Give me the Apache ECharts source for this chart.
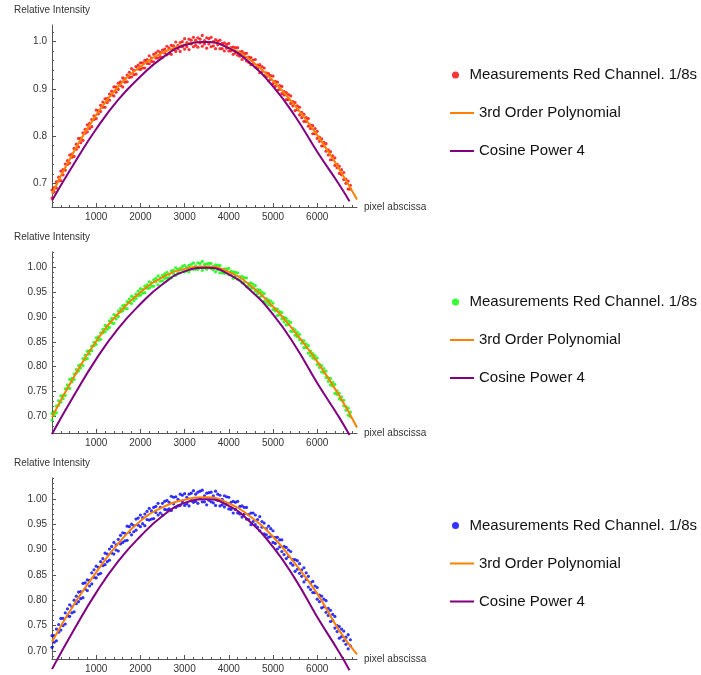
<!DOCTYPE html>
<html>
<head>
<meta charset="utf-8">
<script src="https://cdn.jsdelivr.net/npm/echarts@6/dist/echarts.min.js"></script>
<style>html,body{margin:0;background:#fff}#chart{width:701px;height:675px}</style>
</head>
<body>
<div id="chart"></div>
<script>
// pixel positions of the measurement samples
var pixelX = [0,100,200,300,400,500,600,700,800,900,
  1000,1100,1200,1300,1400,1500,1600,1700,1800,1900,
  2000,2100,2200,2300,2400,2500,2600,2700,2800,2900,
  3000,3100,3200,3300,3400,3500,3600,3700,3800,3900,
  4000,4100,4200,4300,4400,4500,4600,4700,4800,4900,
  5000,5100,5200,5300,5400,5500,5600,5700,5800,5900,
  6000,6100,6200,6300,6400,6500,6600,6700];
var pixelXHalf = [50,150,250,350,450,550,650,750,850,950,
  1050,1150,1250,1350,1450,1550,1650,1750,1850,1950,
  2050,2150,2250,2350,2450,2550,2650,2750,2850,2950,
  3050,3150,3250,3350,3450,3550,3650,3750,3850,3950,
  4050,4150,4250,4350,4450,4550,4650,4750,4850,4950,
  5050,5150,5250,5350,5450,5550,5650,5750,5850,5950,
  6050,6150,6250,6350,6450,6550,6650,6750];

// red channel measurements (edges of the band at full steps, two inner rows at half steps)
var redUpper = [.686,.703,.726,.741,.760,.774,.795,.807,.824,.835,
  .855,.865,.879,.889,.904,.912,.923,.929,.943,.947,
  .955,.960,.970,.973,.980,.982,.990,.992,.999,.998,
  1.006,1.005,1.009,1.008,1.013,1.008,1.009,1.004,1.003,.997,
  .996,.988,.987,.979,.975,.966,.962,.951,.944,.932,
  .927,.914,.905,.892,.885,.871,.861,.846,.837,.822,
  .810,.794,.784,.767,.754,.736,.723,.705];
var redLower = [.669,.690,.706,.728,.743,.757,.777,.791,.809,.820,
  .837,.852,.861,.876,.885,.899,.904,.915,.925,.931,
  .941,.944,.953,.957,.965,.966,.972,.973,.979,.979,
  .984,.983,.989,.988,.990,.986,.989,.985,.985,.980,
  .980,.973,.971,.962,.959,.951,.946,.934,.928,.917,
  .911,.897,.890,.877,.869,.854,.845,.831,.821,.805,
  .795,.779,.768,.750,.738,.721,.708,.688];
var redMid = [.691,.705,.729,.740,.762,.772,.795,.806,.827,.835,
  .854,.861,.880,.887,.904,.907,.921,.924,.939,.942,
  .955,.954,.965,.965,.977,.976,.986,.983,.992,.989,
  .998,.995,1.003,.997,1.002,.995,1.000,.993,.996,.986,
  .987,.976,.978,.967,.967,.953,.950,.936,.934,.920,
  .916,.899,.894,.877,.873,.856,.850,.831,.823,.805,
  .798,.779,.771,.750,.740,.718,.709,.688];
var redMid2 = [.682,.713,.718,.748,.755,.783,.786,.814,.816,.843,
  .847,.872,.871,.895,.893,.915,.914,.935,.930,.950,
  .944,.962,.958,.976,.968,.984,.975,.991,.985,1.000,
  .989,1.003,.992,1.005,.995,1.006,.991,1.001,.985,.994,
  .980,.987,.969,.975,.956,.961,.943,.947,.925,.928,
  .905,.907,.887,.888,.864,.864,.839,.839,.816,.816,
  .789,.787,.760,.758,.733,.729,.700,.696];

// green channel
var greenUpper = [.705,.720,.741,.755,.774,.785,.802,.816,.831,.841,
  .858,.868,.883,.892,.905,.912,.923,.931,.942,.946,
  .957,.962,.971,.975,.983,.984,.990,.993,.999,.998,
  1.004,1.004,1.009,1.009,1.012,1.007,1.008,1.005,1.004,.997,
  .998,.991,.989,.982,.979,.969,.963,.954,.947,.934,
  .928,.916,.909,.897,.889,.874,.865,.852,.842,.826,
  .817,.802,.791,.776,.764,.746,.732,.716];
var greenLower = [.692,.707,.728,.742,.756,.774,.791,.802,.816,.832,
  .845,.855,.870,.879,.887,.901,.912,.917,.927,.937,
  .944,.949,.958,.962,.965,.973,.979,.979,.984,.989,
  .991,.991,.996,.996,.994,.996,.997,.991,.989,.988,
  .985,.978,.976,.969,.961,.958,.952,.940,.932,.925,
  .915,.903,.896,.884,.871,.863,.854,.838,.827,.817,
  .804,.789,.778,.763,.746,.735,.721,.702];
var greenMid = [.709,.722,.742,.756,.776,.787,.804,.814,.832,.842,
  .860,.868,.882,.888,.903,.910,.924,.929,.940,.943,
  .955,.958,.969,.971,.979,.978,.986,.987,.996,.995,
  1.000,.997,1.003,1.001,1.006,1.001,1.002,.995,.996,.990,
  .992,.983,.981,.970,.968,.958,.955,.943,.937,.923,
  .917,.904,.899,.885,.877,.860,.853,.838,.831,.815,
  .805,.787,.777,.761,.751,.732,.719,.699];
var greenMid2 = [.702,.731,.735,.763,.769,.794,.797,.823,.825,.849,
  .853,.875,.875,.897,.896,.917,.917,.936,.933,.952,
  .948,.965,.962,.978,.972,.987,.979,.994,.989,1.002,
  .993,1.006,.996,1.008,.999,1.008,.995,1.004,.989,.997,
  .985,.990,.974,.979,.963,.966,.947,.950,.929,.932,
  .912,.911,.890,.892,.871,.869,.847,.846,.822,.822,
  .798,.796,.770,.768,.744,.739,.712,.708];

// blue channel
var blueUpper = [.730,.743,.764,.775,.791,.800,.816,.833,.840,.854,
  .867,.876,.893,.901,.914,.920,.933,.946,.950,.960,
  .968,.970,.981,.983,.991,.991,.997,1.005,1.004,1.009,
  1.010,1.009,1.016,1.013,1.017,1.011,1.013,1.015,1.007,1.006,
  1.003,.995,.995,.986,.983,.972,.968,.965,.952,.946,
  .937,.924,.919,.904,.896,.880,.872,.864,.847,.837,
  .825,.808,.799,.780,.768,.748,.739,.732];
var blueLower = [.707,.720,.741,.753,.768,.777,.797,.805,.819,.832,
  .844,.853,.870,.879,.891,.897,.914,.918,.929,.938,
  .945,.947,.958,.961,.968,.968,.978,.977,.983,.987,
  .987,.986,.993,.991,.994,.988,.994,.987,.986,.984,
  .980,.972,.972,.964,.960,.949,.949,.937,.931,.924,
  .914,.901,.896,.882,.873,.857,.853,.836,.826,.815,
  .802,.785,.776,.758,.745,.725,.720,.704];
var blueMid = [.730,.737,.764,.769,.787,.793,.817,.822,.839,.845,
  .865,.868,.891,.893,.909,.911,.932,.934,.947,.948,
  .963,.959,.976,.973,.983,.979,.993,.990,.999,.994,
  1.003,.996,1.009,1.001,1.006,.997,1.006,.997,.999,.989,
  .993,.979,.985,.970,.969,.955,.959,.944,.941,.926,
  .924,.905,.906,.886,.880,.861,.860,.841,.834,.815,
  .810,.787,.784,.760,.750,.728,.727,.710];
var blueMid2 = [.717,.752,.750,.783,.775,.808,.803,.834,.828,.860,
  .851,.882,.876,.906,.899,.928,.917,.945,.935,.962,
  .951,.975,.960,.985,.972,.995,.980,1.003,.986,1.007,
  .990,1.011,.995,1.015,.994,1.012,.992,1.009,.988,1.004,
  .979,.993,.970,.983,.959,.972,.944,.955,.929,.941,
  .912,.919,.890,.899,.869,.878,.847,.854,.821,.828,
  .797,.802,.770,.772,.738,.743,.713,.722];

// fitted curves
var fitX = [0,500,1000,1500,2000,2500,3000,3500,4000,4500,5000,5500,6000,6500,6900];
var polyRed = [.678,.768,.845,.905,.947,.976,.994,.999,.987,.960,.917,.864,.802,.730,.666];
var polyGreen = [.698,.780,.851,.907,.950,.980,.997,1.002,.991,.963,.921,.869,.810,.741,.677];
var polyBlue = [.718,.792,.855,.912,.956,.983,.998,1.003,.991,.964,.925,.872,.813,.740,.693];
var cosX = [0,500,1000,1500,2000,2500,3000,3500,4000,4500,5000,5500,6000,6500,6730];
var cosPower4 = [.664,.742,.815,.877,.926,.966,.992,.999,.986,.953,.905,.842,.767,.697,.662];

// tick labels
var xTickLabels = [1000,2000,3000,4000,5000,6000];
var yLabelsTop = [0.7,0.8,0.9,1.0];
var yLabelsFine = [0.70,0.75,0.80,0.85,0.90,0.95,1.00];

var measName = 'Measurements Red Channel. 1/8s';
var polyName = '3rd Order Polynomial';
var cosName = 'Cosine Power 4';
var font = 'Liberation Sans, Arial, sans-serif';
var axisColor = '#555';
var textColor = '#333';
var orange = '#ff8000';
var purple = '#800080';

function pairs(xs, ys) {
  return xs.map(function (x, k) { return [x, ys[k]]; });
}
function steps(from, to, step) {
  var out = [];
  for (var v = from; v <= to + 1e-9; v += step) out.push(+v.toFixed(3));
  return out;
}

var panels = [
  {top: 25, height: 182, yMin: 0.65, yMax: 1.035, minor: steps(0.66, 1.02, 0.02), labels: yLabelsTop, digits: 1,
   color: '#ff0000', meas: [redUpper, redLower, redMid, redMid2], poly: polyRed, legendTop: 62.5},
  {top: 252, height: 181, yMin: 0.666, yMax: 1.031, minor: steps(0.67, 1.03, 0.01), labels: yLabelsFine, digits: 2,
   color: '#00ff00', meas: [greenUpper, greenLower, greenMid, greenMid2], poly: polyGreen, legendTop: 289.5},
  {top: 478, height: 181, yMin: 0.684, yMax: 1.041, minor: steps(0.69, 1.04, 0.01), labels: yLabelsFine, digits: 2,
   color: '#0000ff', meas: [blueUpper, blueLower, blueMid, blueMid2], poly: polyBlue, legendTop: 513}
];

var xMinor = steps(0, 6800, 200);
var grids = [], xAxes = [], yAxes = [], legends = [], series = [];

panels.forEach(function (p, i) {
  grids.push({left: 52, top: p.top, width: 305, height: p.height});

  xAxes.push({
    gridIndex: i, type: 'value', min: 0, max: 6900,
    name: 'pixel abscissa', nameLocation: 'end', nameGap: 7,
    nameTextStyle: {fontSize: 10, color: textColor, fontFamily: font},
    axisLine: {lineStyle: {color: axisColor}},
    axisTick: {inside: true, length: 2, customValues: xMinor, lineStyle: {color: axisColor}},
    axisLabel: {customValues: xTickLabels, fontSize: 10, color: textColor, fontFamily: font, margin: 5,
      formatter: function (v) { return String(v); }},
    splitLine: {show: false}
  });
  xAxes.push({
    gridIndex: i, type: 'value', min: 0, max: 6900, position: 'bottom',
    axisLine: {show: false},
    axisTick: {inside: true, length: 4, customValues: xTickLabels, lineStyle: {color: axisColor}},
    axisLabel: {show: false}, splitLine: {show: false}
  });

  yAxes.push({
    gridIndex: i, type: 'value', min: p.yMin, max: p.yMax,
    name: 'Relative Intensity', nameLocation: 'end', nameGap: 10,
    nameTextStyle: {fontSize: 10, color: textColor, fontFamily: font},
    axisLine: {show: true, lineStyle: {color: axisColor}},
    axisTick: {show: true, inside: true, length: 2, customValues: p.minor, lineStyle: {color: axisColor}},
    axisLabel: {customValues: p.labels, fontSize: 10, color: textColor, fontFamily: font, margin: 5,
      formatter: function (v) { return v.toFixed(p.digits); }},
    splitLine: {show: false}
  });
  yAxes.push({
    gridIndex: i, type: 'value', min: p.yMin, max: p.yMax, position: 'left',
    axisLine: {show: false},
    axisTick: {show: true, inside: true, length: 4, customValues: p.labels, lineStyle: {color: axisColor}},
    axisLabel: {show: false}, splitLine: {show: false}
  });

  legends.push({
    left: 447, top: p.legendTop, orient: 'vertical', selectedMode: false,
    itemWidth: 18, itemHeight: 7,
    textStyle: {fontSize: 15, lineHeight: 15, color: '#111', fontFamily: font},
    data: [{name: measName, icon: 'circle', itemStyle: {color: p.color}}]
  });
  legends.push({
    left: 445, top: p.legendTop + 38, orient: 'vertical', selectedMode: false,
    itemWidth: 24, itemHeight: 2, itemGap: 23,
    textStyle: {fontSize: 15, lineHeight: 15, color: '#111', fontFamily: font},
    data: [
      {name: polyName, icon: 'rect', itemStyle: {color: orange}},
      {name: cosName, icon: 'rect', itemStyle: {color: purple}}
    ]
  });

  series.push({
    name: measName, type: 'scatter', xAxisIndex: 2 * i, yAxisIndex: 2 * i,
    symbolSize: 3.2, itemStyle: {color: p.color}, silent: true,
    data: pairs(pixelX, p.meas[0]).concat(pairs(pixelX, p.meas[1]),
      pairs(pixelXHalf, p.meas[2]), pairs(pixelXHalf, p.meas[3]))
  });
  series.push({
    name: polyName, type: 'line', xAxisIndex: 2 * i, yAxisIndex: 2 * i,
    smooth: true, symbol: 'none', showSymbol: false, clip: false,
    lineStyle: {color: orange, width: 2}, itemStyle: {color: orange},
    data: pairs(fitX, p.poly)
  });
  series.push({
    name: cosName, type: 'line', xAxisIndex: 2 * i, yAxisIndex: 2 * i,
    smooth: true, symbol: 'none', showSymbol: false, clip: false,
    lineStyle: {color: purple, width: 2}, itemStyle: {color: purple},
    data: pairs(cosX, cosPower4)
  });
});

var chart = echarts.init(document.getElementById('chart'));
chart.setOption({
  animation: false,
  backgroundColor: '#fff',
  grid: grids,
  xAxis: xAxes,
  yAxis: yAxes,
  legend: legends,
  series: series
});
</script>
</body>
</html>
